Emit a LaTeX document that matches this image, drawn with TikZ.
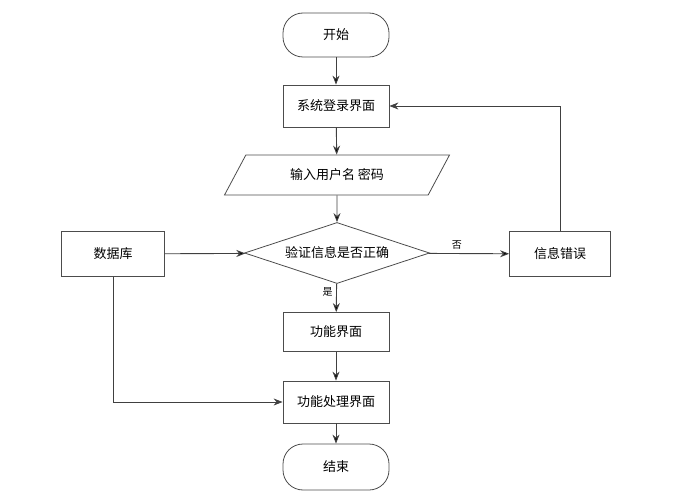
\documentclass[tikz,border=0pt]{standalone}
\usepackage{fontspec}
\newfontfamily\cjk{Noto Sans CJK SC}
\usetikzlibrary{shapes.geometric,arrows.meta,positioning}

\begin{document}
\begin{tikzpicture}[x=1pt,y=-1pt,
	box/.style={draw=black!70,line width=0.8pt,minimum width=106pt,minimum height=42pt,font=\cjk\fontsize{13}{15}\selectfont},
	term/.style={box,rounded corners=20pt,minimum height=44pt},
	io/.style={box,trapezium,trapezium left angle=58,trapezium right angle=122,trapezium stretches=true,minimum width=225pt,minimum height=40pt},
	check/.style={box,diamond,inner sep=0pt,shape aspect=3,minimum width=185pt,minimum height=61pt},
	flow/.style={draw=black!75,line width=0.9pt,-{Stealth[length=9pt,width=7pt]}}]
	\useasboundingbox (0,0) rectangle (683,500);
	\node[term] (start) at (336,35) {开始};
	\node[box] (login) at (336,106) {系统登录界面};
	\node[io] (input) at (337,175) {输入用户名 密码};
	\node[check] (verify) at (337,253) {验证信息是否正确};
	\node[box,minimum width=103pt,minimum height=45pt] (db) at (113,254) {数据库};
	\node[box,minimum width=101pt,minimum height=45pt] (err) at (560,254) {信息错误};
	\node[box,minimum height=39pt] (func) at (336,332) {功能界面};
	\node[box] (proc) at (336,402) {功能处理界面};
	\node[term,minimum height=46pt] (stop) at (336,467) {结束};
	\path[flow]
	(start) edge (login)
	(login) edge (input)
	(input) edge (verify)
	(verify) edge node[left,font=\cjk\fontsize{10}{12}\selectfont,pos=0.3] {是} (func)
	(verify) edge node[above,font=\cjk\fontsize{10}{12}\selectfont,pos=0.35] {否} (err)
	(db) edge (verify)
	(func) edge (proc)
	(proc) edge (stop);
	\draw[flow] (err) |- (login);
	\draw[flow] (db) |- (proc);
\end{tikzpicture}
\end{document}
